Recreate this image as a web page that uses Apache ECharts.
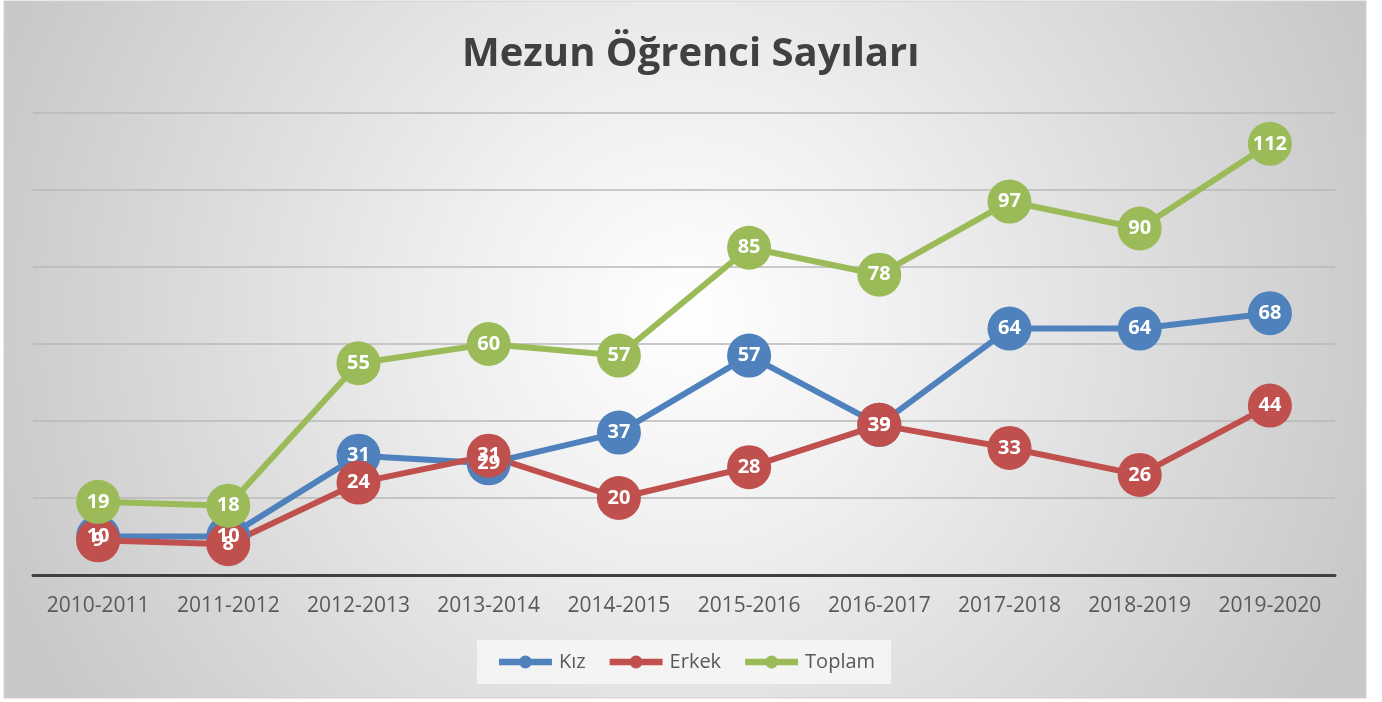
<!DOCTYPE html>
<html>
<head>
<meta charset="utf-8">
<script src="https://cdn.jsdelivr.net/npm/echarts@6/dist/echarts.min.js"></script>
<style>
  html, body { margin: 0; padding: 0; background: #fff; }
  #chart { width: 1382px; height: 702px; }
</style>
</head>
<body>
<div id="chart"></div>
<script>
// veriler
var years = ['2010-2011', '2011-2012', '2012-2013', '2013-2014', '2014-2015',
             '2015-2016', '2016-2017', '2017-2018', '2018-2019', '2019-2020'];
var kiz = [10, 10, 31, 29, 37, 57, 39, 64, 64, 68];
var erkek = [9, 8, 24, 31, 20, 28, 39, 33, 26, 44];
var toplam = [19, 18, 55, 60, 57, 85, 78, 97, 90, 112];

// lejant ikonu: kalın çizgi + daire
var ikon = 'path://M0,3 L57,3 L57,10 L0,10 Z M21.5,6.5 A7,7 0 1,1 35.5,6.5 A7,7 0 1,1 21.5,6.5 Z';

var myChart = echarts.init(document.getElementById('chart'));

function seri(name, data, color) {
    return {
        name: name,
        type: 'line',
        data: data,
        symbol: 'circle',
        symbolSize: 44,
        lineStyle: { color: color, width: 6 },
        itemStyle: { color: color },
        label: {
            show: true,
            position: 'inside',
            color: '#fff',
            fontSize: 20,
            fontWeight: 'bold',
            fontFamily: 'Open Sans'
        },
        emphasis: { disabled: true },
        animation: false
    };
}

var option = {
    graphic: [{
        type: 'rect',
        z: -10,
        silent: true,
        shape: { x: 4, y: 1, width: 1362, height: 697 },
        style: {
            fill: {
                type: 'radial', x: 0.5, y: 0.45, r: 1.05,
                colorStops: [
                    { offset: 0, color: '#ffffff' },
                    { offset: 0.3, color: '#f0f0f0' },
                    { offset: 1, color: '#c8c8c8' }
                ]
            },
            stroke: '#d0d0d0',
            lineWidth: 1
        }
    }],
    title: {
        text: 'Mezun Öğrenci Sayıları',
        left: 457,
        top: 30,
        textStyle: {
            color: '#404040',
            fontSize: 40,
            fontWeight: 'bold',
            fontFamily: 'Open Sans'
        }
    },
    legend: {
        bottom: 18,
        left: 477,
        itemWidth: 57,
        itemHeight: 13,
        itemGap: 24,
        padding: [12, 16, 12, 22],
        backgroundColor: 'rgba(245,245,245,0.9)',
        textStyle: { color: '#595959', fontSize: 20, fontFamily: 'Open Sans' },
        data: [
            { name: 'Kız', icon: ikon },
            { name: 'Erkek', icon: ikon },
            { name: 'Toplam', icon: ikon }
        ]
    },
    grid: { left: 33, right: 47, top: 113, bottom: 127 },
    xAxis: {
        type: 'category',
        data: years,
        axisTick: { show: false },
        axisLine: { lineStyle: { color: '#404040', width: 3 } },
        axisLabel: { interval: 0, color: '#595959', fontSize: 21, fontFamily: 'Open Sans', margin: 21 }
    },
    yAxis: {
        type: 'value',
        min: 0,
        max: 120,
        interval: 20,
        axisLabel: { show: false },
        axisLine: { show: false },
        axisTick: { show: false },
        splitLine: { lineStyle: { color: '#b8b8b8', width: 1.5 } }
    },
    series: [
        seri('Kız', kiz, '#4f81bd'),
        seri('Erkek', erkek, '#c0504d'),
        seri('Toplam', toplam, '#9bbb59')
    ]
};
myChart.setOption(option);
</script>
</body>
</html>
